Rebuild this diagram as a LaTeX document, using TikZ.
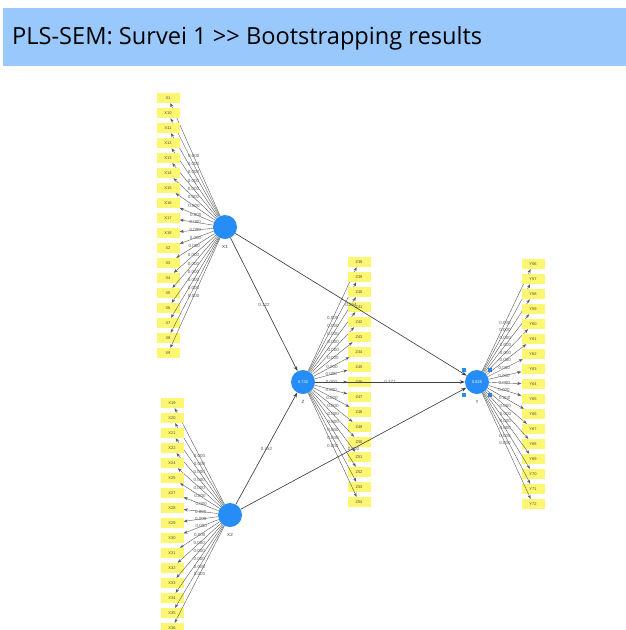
\documentclass[tikz,border=0pt]{standalone}
\usepackage{fontspec}
\setmainfont{Liberation Sans}
\newfontfamily\titlefont{Open Sans}
\usetikzlibrary{arrows.meta,positioning}

\definecolor{bandblue}{RGB}{153,201,252}
\definecolor{latblue}{RGB}{38,141,246}
\definecolor{indyellow}{RGB}{252,246,112}

\tikzset{
    latent/.style={circle, fill=latblue, minimum size=24pt, inner sep=0pt,
        text=white, font=\fontsize{4}{4}\selectfont},
    lvname/.style={font=\fontsize{4.5}{4.5}\selectfont, text=black!80, inner sep=0pt},
    indicator/.style={rectangle, fill=indyellow, minimum width=23pt, minimum height=10pt,
        inner sep=0pt, text=black!70, font=\fontsize{4}{4}\selectfont},
    loading/.style={-{Stealth[length=4pt,width=3pt]}, draw=black!65, line width=0.4pt},
    pathcoef/.style={-{Stealth[length=5pt,width=3.6pt]}, draw=black!75, line width=0.65pt},
    coef/.style={font=\fontsize{4.5}{4.5}\selectfont, text=black!65, inner sep=0.4pt},
    handle/.style={fill=latblue, minimum size=3.5pt, inner sep=0pt},
}

\begin{document}
\begin{tikzpicture}[x=1pt, y=-1pt]
    \useasboundingbox (0,0) rectangle (626,630);

    % title bar
    \fill[bandblue] (3,8) rectangle (626,66);
    \node[anchor=west, inner sep=0pt, font=\titlefont\fontsize{23.6}{23.6}\selectfont] (title) at (12,38)
        {PLS-SEM: Survei 1 >{}> Bootstrapping results};

    % constructs
    \node[latent] (X1) at (225,227) {};
    \node[latent] (X2) at (230,515) {};
    \node[latent] (Z) at (303,382) {0.732};
    \node[latent] (Y) at (477,382) {0.825};
    \node[lvname, below=6pt of X1] (X1name) {X1};
    \node[lvname, below=6pt of X2] (X2name) {X2};
    \node[lvname, below=6pt of Z] (Zname) {Z};
    \node[lvname, below=6pt of Y] (Yname) {Y};

    % selection handles on Y
    \foreach \dx/\dy [count=\k] in {-13/-12, 13/-12, -13/13, 13/13}
        \node[handle] (h\k) at (477+\dx,382+\dy) {};

    % indicators of X1
    \foreach \n [count=\i from 0] in {1,10,11,12,13,14,15,16,17,18,2,3,4,5,6,7,8,9} {
        \node[indicator] (i\n) at (168,98+15*\i) {X\n};
        \draw[loading] (X1) -- node[coef, pos=0.53] {0.000} (i\n);
    }

    % indicators of X2
    \foreach \n [count=\i from 0] in {19,20,21,22,24,25,27,28,29,30,31,32,33,34,35,36} {
        \node[indicator] (i\n) at (172,403+15*\i) {X\n};
        \draw[loading] (X2) -- node[coef, pos=0.5] {0.000} (i\n);
    }

    % indicators of Z
    \foreach \n [count=\i from 0] in {38,...,54} {
        \node[indicator] (i\n) at (359,262+15*\i) {Z\n};
        \draw[loading] (Z) -- node[coef, pos=0.51] {0.000} (i\n);
    }

    % indicators of Y
    \foreach \n [count=\i from 0] in {56,...,72} {
        \node[indicator] (i\n) at (533,264+15*\i) {Y\n};
        \draw[loading] (Y) -- node[coef, pos=0.47] {0.000} (i\n);
    }

    % inner model
    \draw[pathcoef] (X1) -- node[coef] {0.122} (Z);
    \draw[pathcoef] (X1) -- node[coef] {0.254} (Y);
    \draw[pathcoef] (X2) -- node[coef] {0.452} (Z);
    \draw[pathcoef] (X2) -- node[coef] {0.000} (Y);
    \draw[pathcoef] (Z) -- node[coef] {0.277} (Y);
\end{tikzpicture}
\end{document}
